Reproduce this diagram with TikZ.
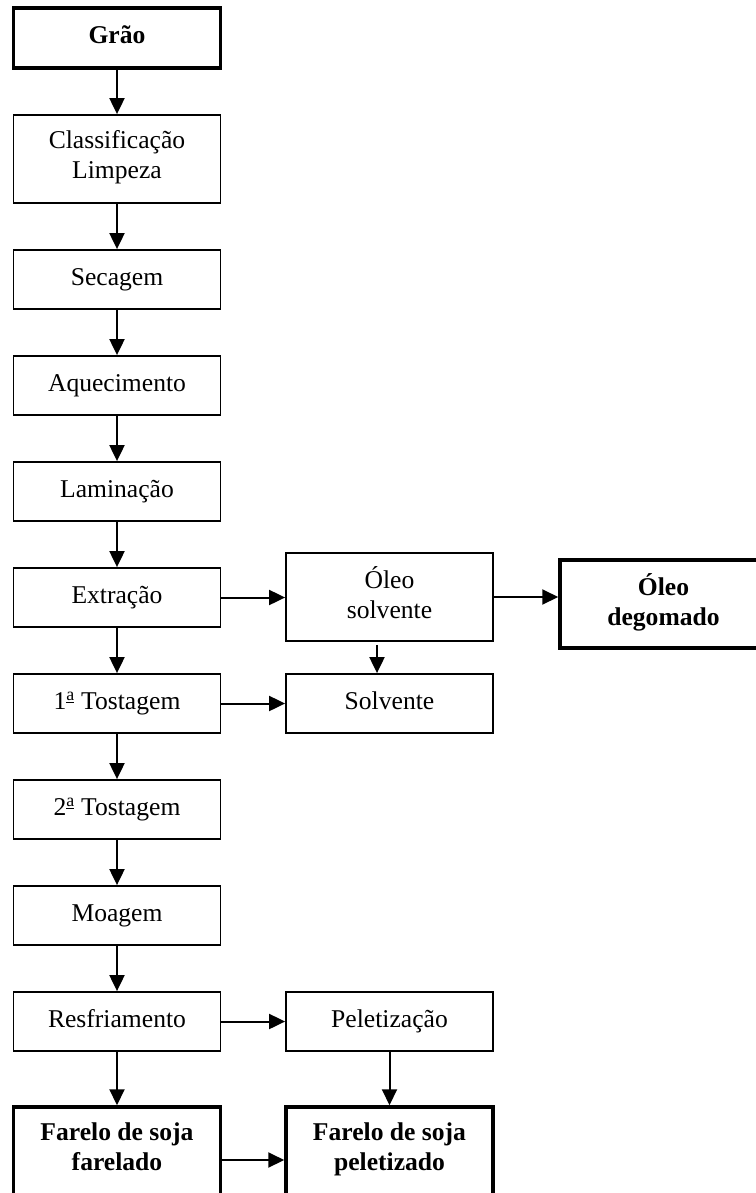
\documentclass[tikz,border=0pt]{standalone}
\usepackage{fontspec}
\setmainfont{Liberation Serif}[Ligatures=NoCommon]
\usetikzlibrary{arrows.meta,positioning}

\tikzset{
  etapa/.style={draw, line width=1.8pt, minimum width=207pt, minimum height=59pt, inner sep=0pt, align=center, font=\fontsize{25.6}{30}\selectfont,
    execute at begin node=\strut, execute at end node=\strut},
  etapadupla/.style={etapa, minimum height=88pt},
  produto/.style={etapadupla, line width=3.5pt, font=\fontsize{25.6}{30}\selectfont\bfseries},
  seta/.style={line width=2pt, -{Triangle[length=16pt,width=15pt]}}
}
\newcommand{\ordinal}{\textsuperscript{\underline{a}}}

\begin{document}
\begin{tikzpicture}[x=1pt,y=-1pt]
\useasboundingbox (0,0) rectangle (755,1193);

% coluna principal
\node[produto, minimum height=60pt] (grao) at (117,38) {Grão};
\node[etapadupla] (limpeza) at (117,159) {Classificação\\Limpeza};
\node[etapa] (secagem) at (117,279.5) {Secagem};
\node[etapa] (aquec) at (117,385.5) {Aquecimento};
\node[etapa] (lamin) at (117,491.5) {Laminação};
\node[etapa] (extr) at (117,597.5) {Extração};
\node[etapa] (tost1) at (117,703.5) {1\ordinal{} Tostagem};
\node[etapa] (tost2) at (117,809.5) {2\ordinal{} Tostagem};
\node[etapa] (moagem) at (117,915.5) {Moagem};
\node[etapa] (resfr) at (117,1021.5) {Resfriamento};
\node[produto] (farelado) at (117,1151) {Farelo de soja\\farelado};

% ramos
\node[etapadupla] (oleosolv) at (389.5,597) {Óleo\\solvente};
\node[etapa] (solvente) at (389.5,703.5) {Solvente};
\node[produto] (degomado) at (663.5,604) {Óleo\\degomado};
\node[etapa] (pelet) at (389.5,1021.5) {Peletização};
\node[produto] (peletizado) at (389.5,1151) {Farelo de soja\\peletizado};

% setas
\foreach \a/\b in {grao/limpeza, limpeza/secagem, secagem/aquec, aquec/lamin, lamin/extr, extr/tost1, tost1/tost2, tost2/moagem, moagem/resfr, resfr/farelado, tost1/solvente, resfr/pelet, pelet/peletizado}
  \draw[seta] (\a) -- (\b);
\draw[seta] (extr.east) -- (extr.east -| oleosolv.west);
\draw[seta] (oleosolv.east) -- (oleosolv.east -| degomado.west);
\draw[seta] ([xshift=-12.5pt,yshift=-3pt]oleosolv.south) -- ([xshift=-12.5pt]solvente.north);
\draw[seta] ([yshift=-9pt]farelado.east) -- ([yshift=-9pt]farelado.east -| peletizado.west);
\end{tikzpicture}
\end{document}
